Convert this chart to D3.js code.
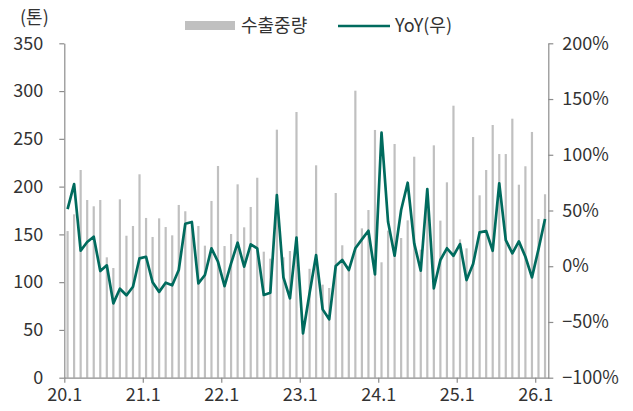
<!DOCTYPE html>
<html>
<head>
<meta charset="utf-8">
<script src="https://cdn.jsdelivr.net/npm/d3@7"></script>
<style>
  body { margin: 0; background: #fff; }
  text { font-family: "Noto Sans CJK KR", "Noto Sans", sans-serif; }
</style>
</head>
<body>
<svg id="chart"></svg>
<script>
// Monthly export volume (tonnes), 20.1 ~ 26.2
const years = ['20', '21', '22', '23', '24', '25', '26'];
const volume = [
    153.5, 171, 217.4, 186, 179.4, 186, 126, 114.8, 186.7, 148.6, 158.8, 212.9,
    167.2, 147.3, 166.8, 157.7, 149, 180.8, 174.2, 160, 158.8, 138.2, 185, 221.6,
    137.8, 150.4, 202.4, 157.4, 178.7, 209.3, 131.9, 124.6, 259.6, 126, 132.6, 278.1,
    55, 114, 222.3, 97.4, 93.9, 193.3, 138.6, 112.7, 300.4, 156.3, 175.5, 259.3,
    120.8, 153.9, 244.6, 146.2, 164.7, 231.3, 134, 190, 243.2, 164.4, 204.5, 284.7,
    144.8, 135.4, 251.9, 190.9, 217.4, 264.5, 234.1, 234.1, 271.1, 202, 221.3, 257.2,
    166.1, 192
];
// YoY (%), right axis
const yoy = [
    51.3, 73.7, 13.9, 21.7, 26.5, -4.3, 0.8, -33.3, -20.2, -26.1, -18.4, 7.1,
    8.5, -14.4, -23, -14.8, -17.1, -3.4, 38.1, 39.7, -15.4, -7.9, 16.1, 4.0,
    -17.8, 2.6, 21.1, -0.4, 19.6, 16, -25.8, -23.8, 63.9, -10, -28.8, 25.6,
    -60.2, -24.3, 10, -38.7, -47.6, 0.2, 5.6, -3.4, 16.1, 24.1, 31.8, -7.3,
    119.8, 39.9, 9.4, 50.4, 74.9, 20.5, -4, 69.3, -19.8, 5.6, 16.1, 9.4,
    19.9, -12.4, 2, 30.4, 31.6, 13.9, 74.4, 23.5, 11.6, 22.3, 8.5, -10,
    15.2, 42.3
];
const leftTicks = [0, 50, 100, 150, 200, 250, 300, 350];
const rightTicks = [-100, -50, 0, 50, 100, 150, 200];
const xTickLabels = years.map(y => y + '.1');

let width = 633, height = 411;
let margin = { top: 43.3, bottom: 33.3, left: 64.3, right: 84.7 };

let svg = d3.select('#chart')
    .attr('width', width)
    .attr('height', height);

// x: month index, ticks at start of each January
let xScale = d3.scaleLinear()
    .domain([0, volume.length])
    .range([margin.left, width - margin.right]);

let yScale = d3.scaleLinear()
    .domain([0, 350])
    .range([height - margin.bottom, margin.top]);

let y2Scale = d3.scaleLinear()
    .domain([-100, 200])
    .range([height - margin.bottom, margin.top]);

// bars
let barW = 2.2;
svg.append('g')
    .selectAll('rect')
    .data(volume)
    .enter()
    .append('rect')
    .attr('x', (d, i) => xScale(i + 0.5) - barW / 2)
    .attr('y', d => yScale(d))
    .attr('width', barW)
    .attr('height', d => yScale(0) - yScale(d))
    .attr('fill', '#c0c0c0');

// axes
let axisColor = '#8c8c8c';
let textColor = '#333';

let yAxis = svg.append('g')
    .attr('transform', `translate(${margin.left}, 0)`)
    .call(d3.axisLeft(yScale).tickValues(leftTicks).tickSize(5).tickSizeOuter(0).tickPadding(16));

let y2Axis = svg.append('g')
    .attr('transform', `translate(${width - margin.right}, 0)`)
    .call(d3.axisRight(y2Scale).tickValues(rightTicks).tickSize(5).tickSizeOuter(0).tickPadding(9)
        .tickFormat(d => (d < 0 ? '\u2212' + Math.abs(d) : d) + '%'));

let xAxis = svg.append('g')
    .attr('transform', `translate(0, ${height - margin.bottom})`)
    .call(d3.axisBottom(xScale)
        .tickValues(xTickLabels.map((d, i) => i * 12))
        .tickSize(5).tickSizeOuter(0).tickPadding(6)
        .tickFormat((d, i) => xTickLabels[i]));

[yAxis, y2Axis, xAxis].forEach(function(ax) {
    ax.selectAll('path, line').attr('stroke', axisColor).attr('stroke-width', 1.2);
    ax.selectAll('text').attr('fill', textColor).style('font-size', '18px');
});

// YoY line
let line = d3.line()
    .x((d, i) => xScale(i + 0.5))
    .y(d => y2Scale(d));

svg.append('path')
    .datum(yoy)
    .attr('d', line)
    .attr('fill', 'none')
    .attr('stroke', '#006b5e')
    .attr('stroke-width', 2.7)
    .attr('stroke-linejoin', 'round');

// unit label
svg.append('text')
    .attr('x', 20)
    .attr('y', 24)
    .attr('fill', textColor)
    .style('font-size', '18px')
    .text('(톤)');

// legend
let legend = svg.append('g');
legend.append('rect')
    .attr('x', 185).attr('y', 21)
    .attr('width', 50).attr('height', 9)
    .attr('fill', '#c0c0c0');
legend.append('text')
    .attr('x', 241).attr('y', 32)
    .attr('fill', textColor)
    .style('font-size', '18px')
    .text('수출중량');
legend.append('line')
    .attr('x1', 338).attr('x2', 390)
    .attr('y1', 26).attr('y2', 26)
    .attr('stroke', '#006b5e')
    .attr('stroke-width', 2.7);
legend.append('text')
    .attr('x', 395).attr('y', 32)
    .attr('fill', textColor)
    .style('font-size', '18px')
    .text('YoY(우)');
</script>
</body>
</html>
